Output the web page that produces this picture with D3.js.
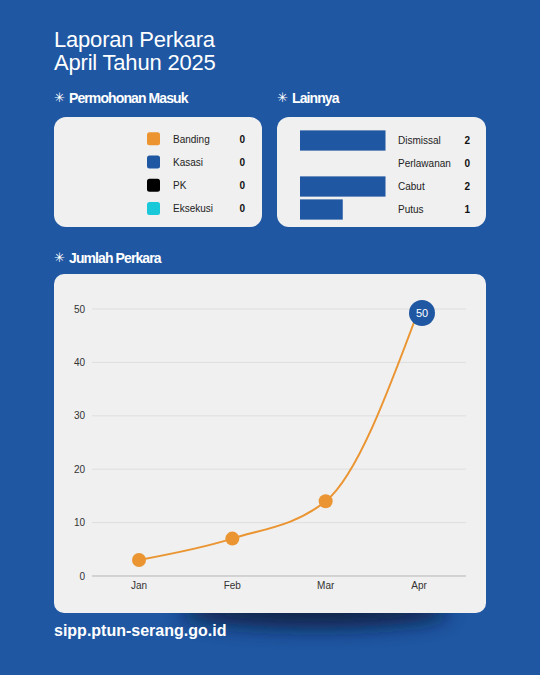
<!DOCTYPE html>
<html><head><meta charset="utf-8">
<script src="https://cdn.jsdelivr.net/npm/d3@7"></script>
<style>
html,body{margin:0;padding:0;background:#1f57a3;}
svg{display:block;}
text{font-family:"Liberation Sans",Arial,sans-serif;}
</style></head>
<body>
<svg id="c" width="540" height="675"></svg>
<script>
// Data
const permohonanCategories = ["Banding","Kasasi","PK","Eksekusi"];
const permohonanValues = [0,0,0,0];
const permohonanColors = ["#ec9430","#1f57a3","#000000","#19c9d9"];
const lainnyaCategories = ["Dismissal","Perlawanan","Cabut","Putus"];
const lainnyaValues = [2,0,2,1];
const months = ["Jan","Feb","Mar","Apr"];
const jumlahValues = [3,7,14,50];
const yTicks = [0,10,20,30,40,50];

const BLUE = "#1f57a3", CARD = "#f0f0f0", ORANGE = "#ea9531";
const svg = d3.select("#c");
svg.append("rect").attr("width",540).attr("height",675).attr("fill",BLUE);

const defs = svg.append("defs");
defs.append("filter").attr("id","blur").attr("x","-50%").attr("y","-100%").attr("width","200%").attr("height","300%")
  .append("feGaussianBlur").attr("stdDeviation",10);

// Title
const title = svg.append("text").attr("x",54).attr("fill","#fff").attr("font-size",22).attr("letter-spacing",-0.2);
title.append("tspan").attr("x",54).attr("y",47).text("Laporan Perkara");
title.append("tspan").attr("x",54).attr("y",70).text("April Tahun 2025");

function heading(x,y,t){
  const g = svg.append("g");
  g.append("text").attr("x",x).attr("y",y).attr("fill","#fff").attr("font-size",13)
    .attr("font-family","DejaVu Sans").text("\u2733");
  g.append("text").attr("x",x+15).attr("y",y+1).attr("fill","#fff").attr("font-size",14)
    .attr("font-weight","bold").attr("letter-spacing",-0.9).text(t);
}
heading(54,102,"Permohonan Masuk");
heading(277,102,"Lainnya");
heading(54,262,"Jumlah Perkara");

// Card 1
svg.append("rect").attr("x",54).attr("y",117).attr("width",208).attr("height",110).attr("rx",12).attr("fill",CARD);
const ly = d3.scaleBand().domain(permohonanCategories).range([127,220]).padding(0);
const g1 = svg.append("g");
permohonanCategories.forEach((c,i)=>{
  const cy = ly(c)+ly.bandwidth()/2;
  g1.append("rect").attr("x",147).attr("y",cy-6.5).attr("width",13).attr("height",13).attr("rx",2.5).attr("fill",permohonanColors[i]);
  g1.append("text").attr("x",173).attr("y",cy+4).attr("font-size",10).attr("fill","#222").text(c);
  g1.append("text").attr("x",245).attr("y",cy+4).attr("font-size",10).attr("font-weight","bold").attr("text-anchor","end").attr("fill","#111").text(permohonanValues[i]);
});

// Card 2
svg.append("rect").attr("x",277).attr("y",117).attr("width",209).attr("height",110).attr("rx",12).attr("fill",CARD);
const by = d3.scaleBand().domain(lainnyaCategories).range([129,221]).paddingInner(0.12).paddingOuter(0.06);
const bx = d3.scaleLinear().domain([0,2]).range([300,385.5]);
const g2 = svg.append("g");
lainnyaCategories.forEach((c,i)=>{
  const y0 = by(c);
  g2.append("rect").attr("x",bx(0)).attr("y",y0).attr("width",bx(lainnyaValues[i])-bx(0)).attr("height",by.bandwidth()).attr("fill",BLUE);
  const cy = y0+by.bandwidth()/2;
  g2.append("text").attr("x",398).attr("y",cy+3.5).attr("font-size",10).attr("fill","#222").text(c);
  g2.append("text").attr("x",470).attr("y",cy+3.5).attr("font-size",10).attr("font-weight","bold").attr("text-anchor","end").attr("fill","#111").text(lainnyaValues[i]);
});

// Shadow under card 3
svg.append("ellipse").attr("cx",315).attr("cy",612).attr("rx",135).attr("ry",16)
  .attr("fill","#071530").attr("opacity",0.8).attr("filter","url(#blur)");
// Card 3
svg.append("rect").attr("x",54).attr("y",274).attr("width",432).attr("height",339).attr("rx",10).attr("fill",CARD);

const x = d3.scalePoint().domain(months).range([139,419]);
const y = d3.scaleLinear().domain([0,50]).range([576,309]);
const g3 = svg.append("g");
yTicks.forEach(t=>{
  g3.append("line").attr("x1",92).attr("x2",466).attr("y1",y(t)).attr("y2",y(t))
    .attr("stroke", t===0 ? "#b5b5b5" : "#dedede").attr("stroke-width",1);
  g3.append("text").attr("x",85).attr("y",y(t)+3.5).attr("text-anchor","end").attr("font-size",10).attr("fill","#333").text(t);
});
months.forEach(mn=>{
  g3.append("text").attr("x",x(mn)).attr("y",589).attr("text-anchor","middle").attr("font-size",10).attr("fill","#333").text(mn);
});
const pts = months.map((mn,i)=>[x(mn),y(jumlahValues[i])]);
const line = d3.line().curve(d3.curveMonotoneX);
g3.append("path").attr("d",line(pts)).attr("fill","none").attr("stroke",ORANGE).attr("stroke-width",2);
months.forEach((mn,i)=>{
  if(i<months.length-1){
    g3.append("circle").attr("cx",x(mn)).attr("cy",y(jumlahValues[i])).attr("r",7).attr("fill",ORANGE);
  }
});
const last = months.length-1;
g3.append("circle").attr("cx",x(months[last])+3).attr("cy",y(jumlahValues[last])+4).attr("r",13).attr("fill",BLUE);
g3.append("text").attr("x",x(months[last])+3).attr("y",y(jumlahValues[last])+8).attr("text-anchor","middle").attr("font-size",11).attr("fill","#fff").text(jumlahValues[last]);

// Footer
svg.append("text").attr("x",54).attr("y",636).attr("fill","#fff").attr("font-size",16).attr("font-weight","bold").text("sipp.ptun-serang.go.id");
</script>
</body></html>
